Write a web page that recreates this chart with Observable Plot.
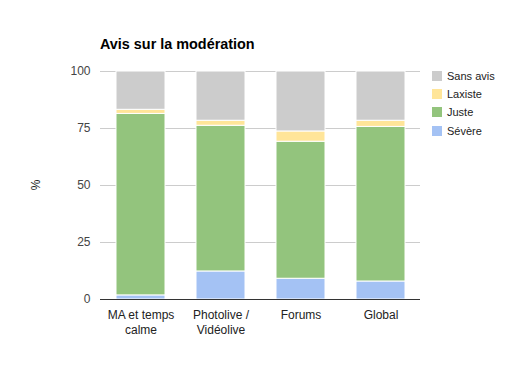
<!DOCTYPE html>
<html>
<head>
<meta charset="utf-8">
<script src="https://cdn.jsdelivr.net/npm/d3@7"></script>
<script src="https://cdn.jsdelivr.net/npm/@observablehq/plot@0.6"></script>
<style>
  html, body { margin: 0; padding: 0; background: #fff; }
  #wrap { position: relative; width: 520px; height: 371px; font-family: "Liberation Sans", Arial, sans-serif; }
  #title { position: absolute; left: 100px; top: 36px; font-size: 14.4px; font-weight: bold; color: #000; white-space: nowrap; }
  #ylabel { position: absolute; left: 35.5px; top: 185px; transform: translate(-50%, -50%) rotate(-90deg); font-size: 12px; color: #222; }
  #legend { position: absolute; left: 432px; top: 67px; font-size: 11px; color: #222; }
  .item { display: flex; align-items: center; height: 18.2px; white-space: nowrap; }
  .sw { width: 10px; height: 10px; margin-right: 5px; }
</style>
</head>
<body>
<div id="wrap">
  <div id="chart"></div>
  <div id="title">Avis sur la modération</div>
  <div id="ylabel">%</div>
  <div id="legend"></div>
</div>
<script>
const categories = ["MA et temps\ncalme", "Photolive /\nVidéolive", "Forums", "Global"];
const series = ["Sévère", "Juste", "Laxiste", "Sans avis"];
const severe = [1.8, 12.3, 9.1, 7.9];
const juste = [79.6, 63.9, 60.1, 67.8];
const laxiste = [1.8, 2.2, 4.5, 2.7];
const sansAvis = [16.8, 21.6, 26.3, 21.6];
const colors = ["#a4c2f4", "#93c47d", "#ffe599", "#cccccc"];
const yTicks = [0, 25, 50, 75, 100];
const legendOrder = ["Sans avis", "Laxiste", "Juste", "Sévère"];

const valuesBySeries = [severe, juste, laxiste, sansAvis];
const data = [];
series.forEach((s, si) => {
  categories.forEach((c, ci) => data.push({category: c, series: s, value: valuesBySeries[si][ci]}));
});

const chart = Plot.plot({
  width: 520,
  height: 371,
  marginLeft: 100,
  marginRight: 100,
  marginTop: 71,
  marginBottom: 72,
  style: {fontFamily: "Liberation Sans, Arial, sans-serif", fontSize: "12px", background: "#fff"},
  x: {domain: categories, paddingInner: 0.3875, paddingOuter: 0.19375, axis: null},
  y: {domain: [0, 100], axis: null},
  color: {domain: series, range: colors},
  marks: [
    Plot.ruleY(yTicks.slice(1), {stroke: "#cccccc", strokeWidth: 1}),
    Plot.barY(data, {x: "category", y: "value", fill: "series", order: series, stroke: "#fff", strokeWidth: 1}),
    Plot.ruleY([0], {stroke: "#333", strokeWidth: 1}),
    Plot.axisY({ticks: yTicks, tickSize: 0, tickPadding: 10, fill: "#444", fontSize: 12, label: null}),
    Plot.axisX({tickSize: 0, tickPadding: 9, fill: "#222", fontSize: 12, lineHeight: 1.25, label: null})
  ]
});
document.getElementById("chart").appendChild(chart);

const legend = document.getElementById("legend");
legendOrder.forEach(name => {
  const item = document.createElement("div");
  item.className = "item";
  const sw = document.createElement("div");
  sw.className = "sw";
  sw.style.background = colors[series.indexOf(name)];
  const t = document.createElement("span");
  t.textContent = name;
  item.appendChild(sw);
  item.appendChild(t);
  legend.appendChild(item);
});
</script>
</body>
</html>
